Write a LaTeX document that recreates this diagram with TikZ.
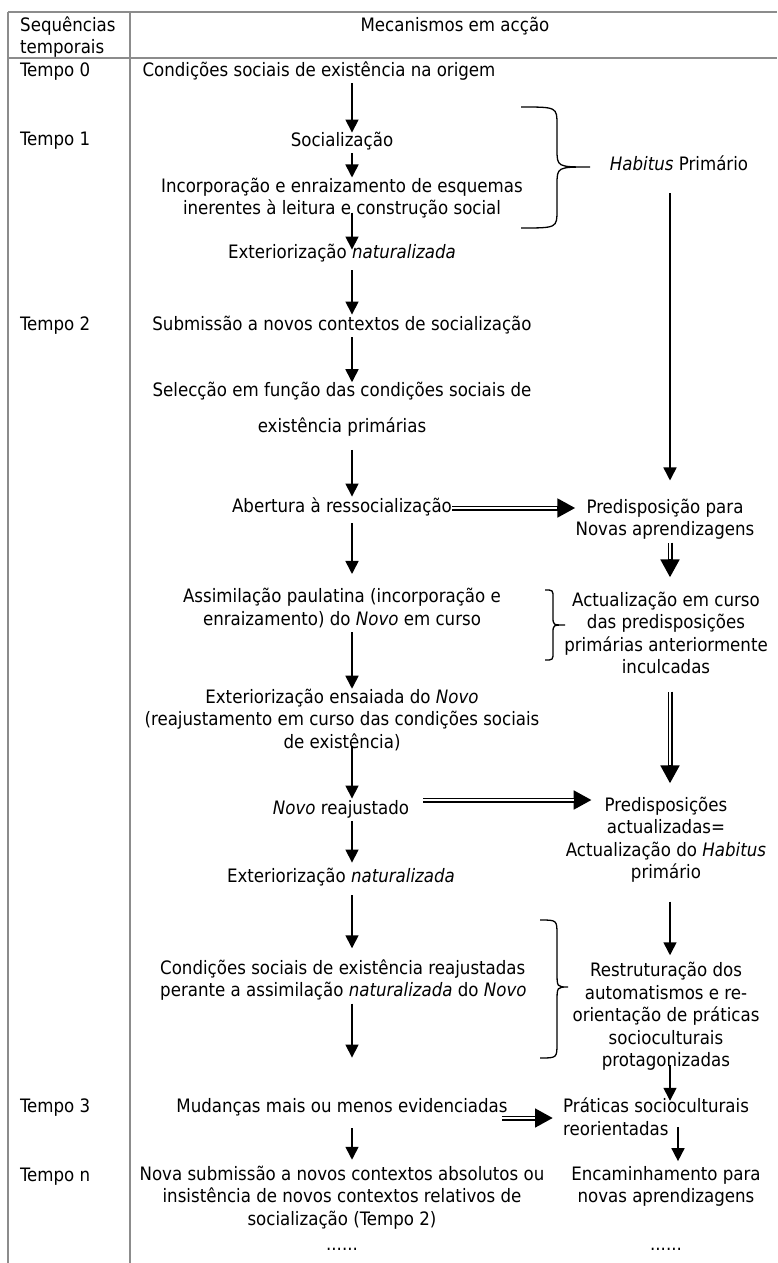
\documentclass[tikz,border=0pt]{standalone}
\usepackage{fontspec}
\setmainfont{DejaVu Sans Condensed}
\usepackage{tikz}
\usetikzlibrary{arrows.meta,calc}

\begin{document}
\begin{tikzpicture}[x=1pt,y=-1pt,
  txt/.style={inner sep=0pt,align=center,font=\fontsize{18.5}{22.5}\selectfont,
    execute at begin node=\strut,execute at end node=\strut},
  rule/.style={black!45,line width=1.6pt},
  arr/.style={line width=1.6pt,-{Triangle[length=13pt,width=13pt]}},
  dbl/.style={line width=5pt,-{Triangle[length=18pt,width=18pt]},shorten >=#1,
    postaction={draw,-,white,line width=1.6pt,shorten >=#1+18pt}},
  dbl/.default=0pt,
  brc/.style={line width=1.3pt}]
\useasboundingbox (0,0) rectangle (777,1263);
% table rules
\draw[rule] (8,12) -- (777,12);
\draw[rule] (8,58) -- (777,58);
\draw[rule] (8,12) -- (8,1263);
\draw[rule] (130,12) -- (130,1263);
% header and time steps
\node[txt,align=left,anchor=west] (seq) at (20,38.5) {Sequências\\temporais};
\node[txt] (mec) at (455,27) {Mecanismos em acção};
\node[txt,anchor=west] (t0) at (20,72) {Tempo 0};
\node[txt,anchor=west] (t1) at (20,141) {Tempo 1};
\node[txt,anchor=west] (t2) at (20,326) {Tempo 2};
\node[txt,anchor=west] (t3) at (20,1108) {Tempo 3};
\node[txt,anchor=west] (tn) at (20,1177) {Tempo n};
% mechanisms
\node[txt] (orig) at (319,72) {Condições sociais de existência na origem};
\node[txt] (soc) at (342,142) {Socialização};
\node[txt] (inc) at (342,199.5) {Incorporação e enraizamento de esquemas\\inerentes à leitura e construção social};
\node[txt] (ext1) at (342,254) {Exteriorização \textit{naturalizada}};
\node[txt] (sub) at (342,326) {Submissão a novos contextos de socialização};
\node[txt] (sel) at (342,411) {Selecção em função das condições sociais de\\[13.5pt]existência primárias};
\node[txt] (abe) at (342,508) {Abertura à ressocialização};
\node[txt] (ass) at (342,610) {Assimilação paulatina (incorporação e\\enraizamento) do \textit{Novo} em curso};
\node[txt] (ens) at (342,722) {Exteriorização ensaiada do \textit{Novo}\\(reajustamento em curso das condições sociais\\de existência)};
\node[txt] (novo) at (341,810) {\textit{Novo} reajustado};
\node[txt] (ext2) at (341,878) {Exteriorização \textit{naturalizada}};
\node[txt,align=left,anchor=west] (reaj) at (160,981.5) {Condições sociais de existência reajustadas\\perante a assimilação \textit{naturalizada} do \textit{Novo}};
\node[txt] (mud) at (342,1108) {Mudanças mais ou menos evidenciadas};
\node[txt] (nova) at (342,1199) {Nova submissão a novos contextos absolutos ou\\insistência de novos contextos relativos de\\socialização (Tempo 2)};
\node[txt] (dotsm) at (342,1246) {......};
% habitus side
\node[txt] (hab) at (679,166) {\textit{Habitus} Primário};
\node[txt] (pre1) at (665,520.5) {Predisposição para\\Novas aprendizagens};
\node[txt] (act) at (666,636) {Actualização em curso\\das predisposições\\primárias anteriormente\\inculcadas};
\node[txt] (pre2) at (666,841) {Predisposições\\actualizadas=\\Actualização do \textit{Habitus}\\primário};
\node[txt] (rest) at (666,1018) {Restruturação dos\\automatismos e re-\\orientação de práticas\\socioculturais\\protagonizadas};
\node[txt,align=left,anchor=west] (prat) at (563,1120) {Práticas socioculturais\\reorientadas};
\node[txt] (enc) at (666,1188) {Encaminhamento para\\novas aprendizagens};
\node[txt] (dotsr) at (666,1246) {......};
% braces
\draw[brc] (521,107) .. controls (557,107) .. (557,125) -- (557,149) .. controls (557,167) .. (590,167)
  .. controls (557,167) .. (557,185) -- (557,210) .. controls (557,228) .. (521,228);
\draw[brc] (545,590) .. controls (553,590) .. (553,598) -- (553,617) .. controls (553,625) .. (565,625)
  .. controls (553,625) .. (553,633) -- (553,652) .. controls (553,660) .. (545,660);
\draw[brc] (540,920) .. controls (557,920) .. (557,935) -- (557,972) .. controls (557,987) .. (568,987)
  .. controls (557,987) .. (557,1002) -- (557,1043) .. controls (557,1058) .. (540,1058);
% arrows
\coordinate (mx) at (352,0);
\coordinate (rx) at (670,0);
\coordinate (px) at (678,0);
\draw[arr,shorten >=-2pt] (orig.south -| mx) -- (soc.north -| mx);
\draw[arr] (soc.south -| mx) -- (inc.north -| mx);
\draw[arr,shorten <=-9pt,shorten >=-7pt] (inc.south -| mx) -- (ext1.north -| mx);
\draw[arr,shorten <=5pt] (ext1.south -| mx) -- (sub.north -| mx);
\draw[arr] (sub.south -| mx) -- (sel.north -| mx);
\draw[arr,shorten <=10pt] (sel.south -| mx) -- (abe.north -| mx);
\draw[arr,shorten <=4pt,shorten >=14pt] (abe.south -| mx) -- (ass.north -| mx);
\draw[arr] (ass.south -| mx) -- (ens.north -| mx);
\draw[arr,shorten <=-9pt] (ens.south -| mx) -- (novo.north -| mx);
\draw[arr,shorten >=4pt] (novo.south -| mx) -- (ext2.north -| mx);
\draw[arr,shorten <=6pt,shorten >=11pt] (ext2.south -| mx) -- (reaj.north -| mx);
\draw[arr,shorten >=39pt] (reaj.south -| mx) -- (mud.north -| mx);
\draw[arr,shorten <=9pt,shorten >=6pt] (mud.south -| mx) -- (nova.north -| mx);
\draw[arr,shorten <=16pt,shorten >=18pt] (hab.south -| rx) -- (pre1.north -| rx);
\draw[dbl=14pt] (pre1.south -| rx) -- (act.north -| rx);
\draw[dbl=13pt,shorten <=11pt] (act.south -| rx) -- (pre2.north -| rx);
\draw[arr,shorten <=16pt,shorten >=7pt] (pre2.south -| rx) -- (rest.north -| rx);
\draw[arr,shorten <=-9pt,shorten >=-3pt] (rest.south -| rx) -- (prat.north -| rx);
\draw[arr,shorten <=-15pt,shorten >=5pt] (prat.south -| px) -- (enc.north -| px);
\draw[dbl] (abe.east) -- (abe.east -| pre1.west);
\draw[dbl=-26pt,shorten <=14pt] ($(novo.east)+(0,-10)$) -- ($(novo.east -| pre2.west)+(0,-10)$);
\draw[dbl=10pt,shorten <=-6pt] ($(mud.east)+(0,10)$) -- ($(mud.east -| prat.west)+(0,10)$);
\end{tikzpicture}
\end{document}
